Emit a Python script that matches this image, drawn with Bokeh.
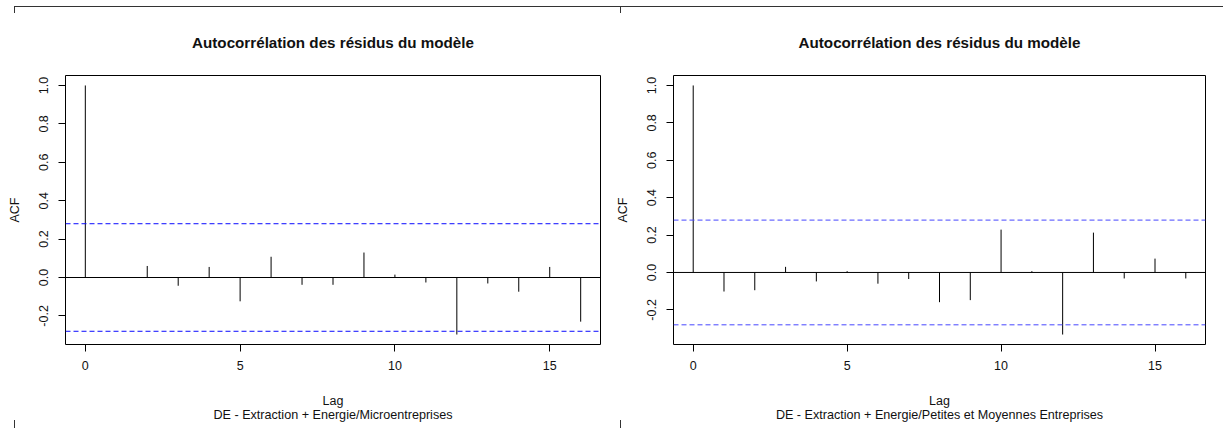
from bokeh.plotting import figure
from bokeh.models import (Span, Title, FixedTicker, Range1d,
                          PrintfTickFormatter)
from bokeh.layouts import row
from bokeh.embed import file_html
from bokeh.resources import INLINE

# Lags of the residual autocorrelation function
lags = list(range(17))

# ACF of the model residuals, microenterprises
acf_micro = [1.0, 0.0, 0.060, -0.043, 0.055, -0.124, 0.108, -0.038, -0.038,
             0.130, 0.015, -0.026, -0.297, -0.031, -0.074, 0.055, -0.230]

# ACF of the model residuals, small and medium-sized enterprises
acf_pme = [1.0, -0.102, -0.095, 0.030, -0.048, 0.007, -0.060, -0.035, -0.159,
           -0.148, 0.229, 0.007, -0.332, 0.213, -0.032, 0.074, -0.032]

# Approximate 95% confidence bound for white noise
ci_bound = 0.28

x_ticks = [0, 5, 10, 15]
y_ticks = [-0.2, 0.0, 0.2, 0.4, 0.6, 0.8, 1.0]

title_text = "Autocorrélation des résidus du modèle"
subtitles = ["DE - Extraction + Energie/Microentreprises",
             "DE - Extraction + Energie/Petites et Moyennes Entreprises"]

FONT = "Liberation Sans"
TXT = "#111111"


def acf_panel(values, subtitle, width, border_left, border_right, ci_color):
    lo = min(min(values), -ci_bound)
    hi = max(max(values), ci_bound)
    pad = 0.04 * (hi - lo)
    xpad = 0.04 * (lags[-1] - lags[0])
    p = figure(width=width, height=428, output_backend="svg",
               toolbar_location=None,
               x_range=Range1d(lags[0] - xpad, lags[-1] + xpad),
               y_range=Range1d(lo - pad, hi + pad),
               min_border_left=border_left, min_border_right=border_right,
               min_border_top=75, min_border_bottom=84)
    p.background_fill_color = "white"
    p.border_fill_color = None
    p.outline_line_color = "black"
    p.outline_line_width = 1
    p.xgrid.visible = False
    p.ygrid.visible = False

    for ax in (p.xaxis[0], p.yaxis[0]):
        ax.axis_line_color = None
        ax.major_tick_line_color = "black"
        ax.major_tick_out = 7
        ax.major_tick_in = 0
        ax.minor_tick_line_color = None
        ax.major_label_text_font = FONT
        ax.major_label_text_font_size = "12.5px"
        ax.major_label_text_color = TXT
        ax.axis_label_text_font = FONT
        ax.axis_label_text_font_size = "12.5px"
        ax.axis_label_text_font_style = "normal"
        ax.axis_label_text_color = TXT

    p.xaxis.ticker = FixedTicker(ticks=x_ticks)
    p.xaxis.major_label_standoff = 9
    p.xaxis.axis_label = "Lag"
    p.xaxis.axis_label_standoff = 21

    p.yaxis.ticker = FixedTicker(ticks=y_ticks)
    p.yaxis.formatter = PrintfTickFormatter(format="%.1f")
    p.yaxis.major_label_orientation = "vertical"
    p.yaxis.major_label_standoff = 10
    p.yaxis.axis_label = "ACF"
    p.yaxis.axis_label_standoff = 15

    # confidence bounds and zero line
    for b in (ci_bound, -ci_bound):
        p.add_layout(Span(location=b, dimension="width", line_color=ci_color,
                          line_width=1, line_dash="5 3"))
    p.add_layout(Span(location=0, dimension="width", line_color="black",
                      line_width=1))

    # one vertical spike per lag
    p.segment(x0=lags, y0=[0] * len(lags), x1=lags, y1=values,
              line_color="black", line_width=1)

    p.add_layout(Title(text=subtitle, align="center", text_font=FONT,
                       text_font_size="12.6px", text_font_style="normal",
                       text_color=TXT, standoff=-10), "below")
    p.add_layout(Title(text=title_text, align="center", text_font=FONT,
                       text_font_size="15.2px", text_font_style="bold",
                       text_color=TXT, standoff=50), "above")
    return p


p1 = acf_panel(acf_micro, subtitles[0], 612, 65, 12, "#0a0aff")
p2 = acf_panel(acf_pme, subtitles[1], 611, 58, 18, "#4646ff")

# thin page frame marks, painted behind the transparent canvases
bar = "linear-gradient(#333333,#333333)"
page_styles = {
    "background-color": "white",
    "background-image": ", ".join([bar] * 5),
    "background-size": "1209px 1px, 1px 7px, 1px 7px, 1px 8px, 1px 8px",
    "background-position": ("14px 6px, 14px 6px, 620px 6px, "
                            "14px 420px, 620px 420px"),
    "background-repeat": "no-repeat",
}

layout = row(p1, p2, spacing=0, styles=page_styles)

open("out.html", "w").write(file_html(layout, INLINE))
